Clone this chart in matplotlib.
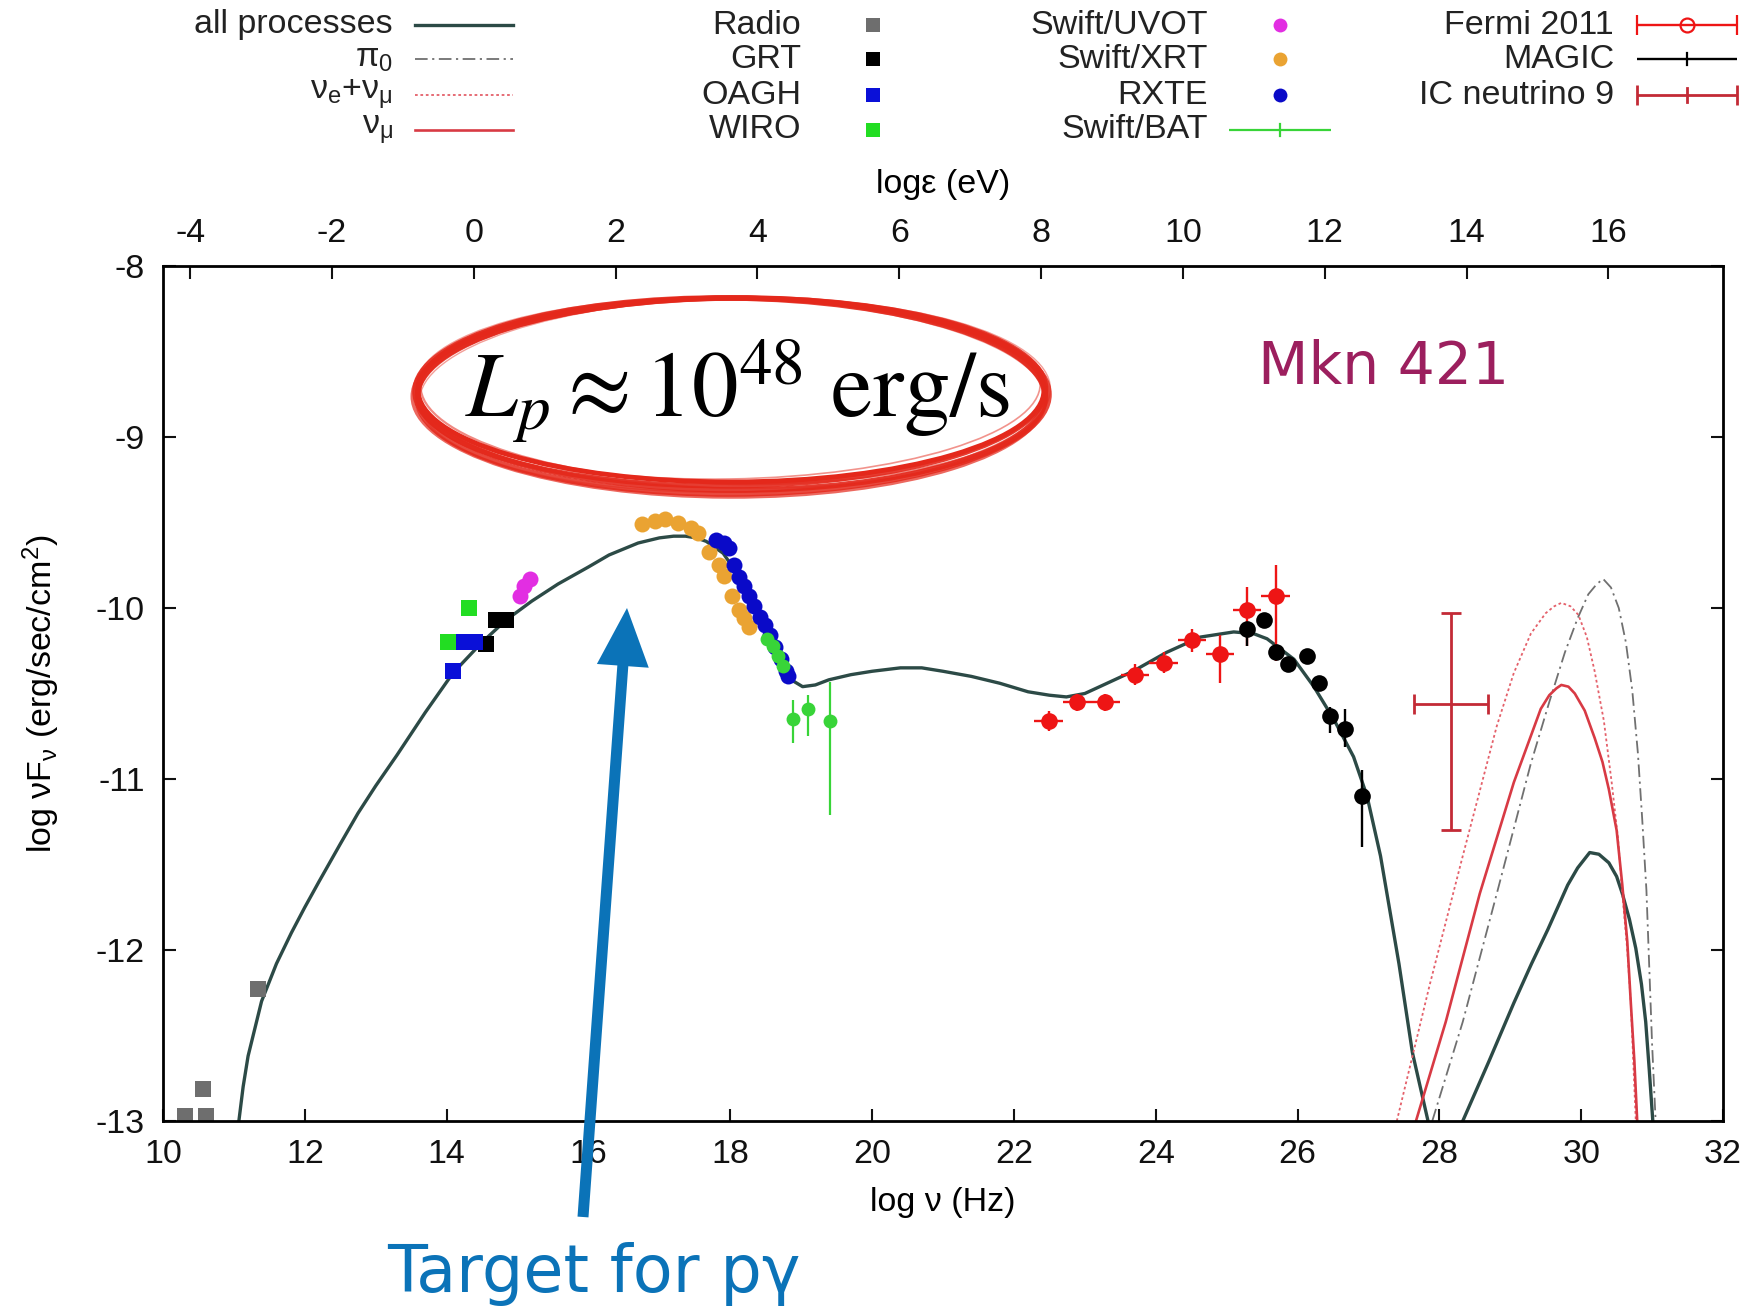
import matplotlib
matplotlib.use("Agg")
import matplotlib.pyplot as plt
from matplotlib.patches import Ellipse, FancyArrow

plt.rcParams['font.family'] = ['Liberation Sans', 'DejaVu Sans']
plt.rcParams['mathtext.fontset'] = 'custom'
plt.rcParams['mathtext.rm'] = 'Liberation Sans'
plt.rcParams['mathtext.it'] = 'Liberation Sans:italic'
plt.rcParams['mathtext.bf'] = 'Liberation Sans:bold'
plt.rcParams['axes.unicode_minus'] = False

# ---------------- model curves (log nu [Hz], log nuFnu) ----------------
all_x1 = [11.07, 11.13, 11.2, 11.39, 11.6, 11.81, 12.0, 12.2, 12.5, 12.75, 13.0, 13.3, 13.7,
          14.09, 14.5, 14.84, 15.2, 15.57, 16.0, 16.29, 16.7, 17.0, 17.2, 17.37, 17.52,
          17.66, 17.9, 18.1, 18.3, 18.5, 18.7, 18.9, 19.02, 19.2, 19.39, 19.7, 20.0, 20.4,
          20.7, 21.0, 21.4, 21.8, 22.2, 22.5, 22.74, 23.0, 23.21, 23.68, 24.15, 24.63,
          25.1, 25.38, 25.57, 25.95, 26.23, 26.51, 26.79, 26.98, 27.17, 27.43, 27.62, 27.84]
all_y1 = [-13.0, -12.8, -12.62, -12.30, -12.08, -11.9, -11.75, -11.6, -11.38, -11.2, -11.04,
          -10.86, -10.61, -10.38, -10.2, -10.07, -9.96, -9.86, -9.76, -9.69, -9.62, -9.59,
          -9.58, -9.58, -9.59, -9.61, -9.68, -9.80, -9.96, -10.13, -10.30, -10.43, -10.46,
          -10.45, -10.42, -10.39, -10.37, -10.35, -10.35, -10.37, -10.40, -10.44, -10.49,
          -10.51, -10.52, -10.50, -10.46, -10.37, -10.26, -10.17, -10.14, -10.15, -10.18,
          -10.30, -10.46, -10.65, -10.87, -11.10, -11.45, -12.08, -12.6, -13.0]
all_x2 = [28.33, 28.7, 29.05, 29.3, 29.53, 29.81, 29.95, 30.12, 30.25, 30.39, 30.5, 30.58,
          30.68, 30.77, 30.85, 30.91, 30.96, 31.01]
all_y2 = [-13.0, -12.65, -12.31, -12.08, -11.88, -11.62, -11.52, -11.43, -11.44, -11.49,
          -11.57, -11.67, -11.82, -11.99, -12.2, -12.42, -12.7, -13.0]

pi0_x = [27.9, 28.33, 28.81, 29.29, 29.55, 29.77, 29.95, 30.1, 30.22, 30.31, 30.42, 30.53,
         30.63, 30.72, 30.8, 30.86, 30.92, 30.96, 31.0, 31.05]
pi0_y = [-13.0, -12.42, -11.67, -10.91, -10.55, -10.26, -10.06, -9.92, -9.86, -9.83, -9.88,
         -10.0, -10.2, -10.48, -10.85, -11.23, -11.65, -12.1, -12.55, -13.0]

nuall_x = [27.40, 27.86, 28.33, 28.81, 29.05, 29.29, 29.5, 29.62, 29.72, 29.85, 29.96,
           30.08, 30.19, 30.32, 30.43, 30.52, 30.58, 30.65, 30.70, 30.77]
nuall_y = [-13.0, -12.21, -11.45, -10.69, -10.38, -10.15, -10.03, -9.99, -9.97, -9.99,
           -10.04, -10.17, -10.37, -10.66, -11.02, -11.35, -11.67, -12.0, -12.31, -13.0]

numu_x = [27.67, 28.09, 28.57, 29.05, 29.43, 29.55, 29.65, 29.72, 29.82, 29.91, 30.05,
          30.19, 30.3, 30.39, 30.5, 30.58, 30.65, 30.70, 30.75, 30.79]
numu_y = [-13.0, -12.42, -11.67, -11.02, -10.59, -10.51, -10.47, -10.45, -10.46, -10.5,
          -10.6, -10.76, -10.9, -11.06, -11.3, -11.62, -11.95, -12.31, -12.65, -13.0]

# ---------------- observations ----------------
radio_x = [10.31, 10.56, 10.61, 11.34]
radio_y = [-12.97, -12.81, -12.97, -12.23]
grt_x = [14.56, 14.70, 14.84]
grt_y = [-10.21, -10.07, -10.07]
oagh_x = [14.09, 14.25, 14.40]
oagh_y = [-10.37, -10.20, -10.20]
wiro_x = [14.02, 14.31]
wiro_y = [-10.20, -10.00]
uvot_x = [15.03, 15.09, 15.17]
uvot_y = [-9.93, -9.87, -9.83]
xrt_x = [16.76, 16.94, 17.08, 17.26, 17.44, 17.55, 17.70, 17.84, 17.91, 18.02, 18.12,
         18.19, 18.27]
xrt_y = [-9.51, -9.49, -9.48, -9.50, -9.53, -9.56, -9.67, -9.75, -9.81, -9.93, -10.01,
         -10.06, -10.11]
rxte_x = [17.80, 17.91, 17.98, 18.05, 18.12, 18.19, 18.27, 18.34, 18.42, 18.49, 18.56,
          18.63, 18.71, 18.78, 18.81]
rxte_y = [-9.60, -9.62, -9.65, -9.75, -9.82, -9.87, -9.93, -9.99, -10.05, -10.10, -10.16,
          -10.23, -10.30, -10.37, -10.40]
bat_x = [18.52, 18.60, 18.67, 18.74, 18.89, 19.10, 19.40]
bat_y = [-10.18, -10.22, -10.28, -10.34, -10.65, -10.59, -10.66]
bat_xerr = [0.02, 0.02, 0.02, 0.02, 0.05, 0.05, 0.05]
bat_yerr_lo = [0.02, 0.02, 0.02, 0.02, 0.14, 0.16, 0.55]
bat_yerr_hi = [0.02, 0.02, 0.02, 0.02, 0.11, 0.08, 0.23]
fermi_x = [22.49, 22.89, 23.29, 23.71, 24.11, 24.51, 24.91, 25.29, 25.69]
fermi_y = [-10.66, -10.55, -10.55, -10.39, -10.32, -10.19, -10.27, -10.01, -9.93]
fermi_xerr = [0.2, 0.2, 0.2, 0.2, 0.2, 0.2, 0.2, 0.2, 0.2]
fermi_yerr_lo = [0.06, 0.05, 0.05, 0.06, 0.06, 0.07, 0.17, 0.21, 0.38]
fermi_yerr_hi = [0.06, 0.05, 0.05, 0.06, 0.06, 0.07, 0.11, 0.13, 0.18]
magic_x = [25.29, 25.52, 25.69, 25.87, 26.13, 26.30, 26.46, 26.67, 26.91]
magic_y = [-10.12, -10.07, -10.26, -10.33, -10.28, -10.44, -10.63, -10.71, -11.10]
magic_yerr_lo = [0.10, 0.04, 0.04, 0.04, 0.04, 0.04, 0.10, 0.10, 0.30]
magic_yerr_hi = [0.04, 0.04, 0.04, 0.04, 0.04, 0.04, 0.05, 0.12, 0.15]
icnu_x = [28.16]
icnu_y = [-10.56]
icnu_xerr = [0.52]
icnu_yerr_lo = [0.74]
icnu_yerr_hi = [0.53]

nu_ticks = list(range(10, 33, 2))
y_ticks = [-8, -9, -10, -11, -12, -13]
eps_ticks = list(range(-4, 17, 2))
LOG_H_EV = 14.383   # log nu - log(eps/eV)

# ---------------- styles ----------------
C_ALL = '#2c4a46'
C_NUMU = '#d83a44'
C_NUALL = '#e4606a'
C_PI0 = '#707070'
st_all = dict(color=C_ALL, lw=2.4, ls='-')
st_pi0 = dict(color=C_PI0, lw=1.3, ls=(0, (7, 2.5, 1.2, 2.5)))
st_nuall = dict(color=C_NUALL, lw=1.3, ls=(0, (1.5, 1.5)))
st_numu = dict(color=C_NUMU, lw=1.9, ls='-')
sq = dict(ls='none', marker='s', ms=11, mew=0)
ci = dict(ls='none', marker='o', ms=11.5, mew=0)
st_radio = dict(sq, color='#6e6e6e')
st_grt = dict(sq, color='#000000')
st_oagh = dict(sq, color='#0a10d8')
st_wiro = dict(sq, color='#22dd22')
st_uvot = dict(ci, color='#e22ee2')
st_xrt = dict(ci, color='#eaa332')
st_rxte = dict(ci, color='#0a0ac8')
eb_bat = dict(fmt='o', color='#38d438', ms=10, mew=0, elinewidth=1.6, capsize=5, capthick=1.6)
eb_fermi = dict(fmt='o', color='#ee1515', ms=12, mew=0, elinewidth=1.7, capsize=5, capthick=1.7)
eb_magic = dict(fmt='o', color='#000000', ms=12, mew=0, elinewidth=1.7, capsize=6, capthick=1.7)
eb_icnu = dict(fmt='none', color='#c32a36', elinewidth=2.0, capsize=7, capthick=2.0)

FS = 24.5
W, H = 1750, 1316
fig = plt.figure(figsize=(W / 100, H / 100), dpi=100)
ax = fig.add_axes([163 / W, 1 - 1121 / H, (1723 - 163) / W, (1121 - 266) / H])

ax.plot(all_x1, all_y1, **st_all)
ax.plot(all_x2, all_y2, **st_all)
ax.plot(pi0_x, pi0_y, **st_pi0)
ax.plot(nuall_x, nuall_y, **st_nuall)
ax.plot(numu_x, numu_y, **st_numu)

ax.plot(radio_x, radio_y, **st_radio)
ax.plot(grt_x, grt_y, **st_grt)
ax.plot(oagh_x, oagh_y, **st_oagh)
ax.plot(wiro_x, wiro_y, **st_wiro)
ax.plot(uvot_x, uvot_y, **st_uvot)
ax.plot(xrt_x, xrt_y, **st_xrt)
ax.plot(rxte_x, rxte_y, **st_rxte)
ax.errorbar(bat_x, bat_y, xerr=bat_xerr, yerr=[bat_yerr_lo, bat_yerr_hi], **eb_bat)
ax.errorbar(fermi_x, fermi_y, xerr=fermi_xerr, yerr=[fermi_yerr_lo, fermi_yerr_hi], **eb_fermi)
ax.errorbar(magic_x, magic_y, yerr=[magic_yerr_lo, magic_yerr_hi], **eb_magic)
ax.errorbar(icnu_x, icnu_y, xerr=icnu_xerr, yerr=[icnu_yerr_lo, icnu_yerr_hi], **eb_icnu)

ax.set_xlim(10, 32)
ax.set_ylim(-13, -8)
ax.set_xticks(nu_ticks)
ax.set_yticks(y_ticks)
ax.tick_params(direction='in', length=9, width=1.5, labelsize=FS, right=True, top=False,
               colors='#111111')
ax.tick_params(axis='x', pad=13)
ax.tick_params(axis='y', pad=13)
for s in ax.spines.values():
    s.set_linewidth(2.0)
ax.set_xlabel('log ν (Hz)', fontsize=FS, labelpad=12)
ax.set_ylabel('log νF$_{\\mathrm{ν}}$ (erg/sec/cm$^{\\mathrm{2}}$)', fontsize=FS, labelpad=24)

sec = ax.secondary_xaxis('top', functions=(lambda v: v - LOG_H_EV, lambda e: e + LOG_H_EV))
sec.set_xticks(eps_ticks)
sec.tick_params(direction='in', length=9, width=1.5, labelsize=FS, pad=12, colors='#111111')
sec.set_xlabel('logε (eV)', fontsize=FS, labelpad=18)

# ---------------- overlay in pixel units: keys and annotations ----------------
ov = fig.add_axes([0, 0, 1, 1], zorder=10)
ov.set_xlim(0, W)
ov.set_ylim(H, 0)
ov.axis('off')
ov.patch.set_alpha(0)

TXT = '#222222'
rows = [25, 59, 95, 130]
# column 1: model curves
for y, lab, st in zip(rows, ['all processes', 'π$_{\\mathrm{0}}$', 'ν$_{\\mathrm{e}}$+ν$_{\\mathrm{μ}}$', 'ν$_{\\mathrm{μ}}$'],
                      [st_all, st_pi0, st_nuall, st_numu]):
    ov.text(393, y, lab, ha='right', va='center', fontsize=FS, color=TXT)
    ov.plot([415, 513], [y, y], **st)
# column 2
for y, lab, st in zip(rows, ['Radio', 'GRT', 'OAGH', 'WIRO'], [st_radio, st_grt, st_oagh, st_wiro]):
    ov.text(801, y, lab, ha='right', va='center', fontsize=FS, color=TXT)
    ov.plot([873], [y], **dict(st, ms=10))
# column 3
for y, lab, st in zip(rows[:3], ['Swift/UVOT', 'Swift/XRT', 'RXTE'], [st_uvot, st_xrt, st_rxte]):
    ov.text(1208, y, lab, ha='right', va='center', fontsize=FS, color=TXT)
    ov.plot([1280], [y], **dict(st, ms=10))
ov.text(1208, rows[3], 'Swift/BAT', ha='right', va='center', fontsize=FS, color=TXT)
ov.errorbar([1280], [rows[3]], xerr=[51], **dict(eb_bat, ms=0, capsize=6))
ov.plot([1280, 1280], [rows[3] - 6, rows[3] + 6], color='#38d438', lw=1.6)
# column 4
ov.text(1614, rows[0], 'Fermi 2011', ha='right', va='center', fontsize=FS, color=TXT)
ov.errorbar([1687], [rows[0]], xerr=[50], **dict(eb_fermi, ms=10, mfc='none', mew=1.6, capsize=7))
ov.text(1614, rows[1], 'MAGIC', ha='right', va='center', fontsize=FS, color=TXT)
ov.errorbar([1687], [rows[1]], xerr=[50], **dict(eb_magic, ms=0, capsize=7))
ov.plot([1687, 1687], [rows[1] - 6, rows[1] + 6], color='black', lw=1.6)
ov.text(1614, rows[2], 'IC neutrino 9', ha='right', va='center', fontsize=FS, color=TXT)
ov.errorbar([1687], [rows[2]], xerr=[50], **dict(eb_icnu, capsize=7))
ov.plot([1687, 1687], [rows[2] - 7, rows[2] + 7], color='#c32a36', lw=2.0)

# proton luminosity callout with a hand-drawn red loop
RED = '#e4281b'
strokes = [  # (dx, dgrow, angle, linewidth, alpha)
    (0, 0, 0.0, 3.5, 1.0), (1, 4, -0.6, 3.5, 0.9), (-1, 8, 0.5, 4.0, 0.9),
    (2, 12, -0.3, 4.0, 0.85), (-2, 15, 0.2, 2.5, 0.7), (3, 2, 1.0, 1.6, 0.55),
    (-3, -3, -0.9, 1.2, 0.5), (0, 6, 1.4, 1.0, 0.45), (4, 10, -1.2, 1.0, 0.45)]
for dx, g, a, lw, al in strokes:
    ov.add_patch(Ellipse((731 + dx, 390 + g / 2), 626 + g * 0.5, 184 + g, angle=a,
                         fill=False, ec=RED, lw=lw, alpha=al))
ov.text(737, 391, r'$L_p \approx 10^{48}\ \mathrm{erg/s}$', ha='center', va='center',
        fontsize=67, math_fontfamily='stix', color='black')

ov.text(1384, 368, 'Mkn 421', ha='center', va='center', fontsize=42, color='#9c1f5e',
        family='DejaVu Sans')

ov.add_patch(FancyArrow(583, 1217, 627 - 583, 608 - 1217, width=11, head_width=52,
                        head_length=58, length_includes_head=True, color='#0b73b8', lw=0))
ov.text(594, 1274, 'Target for pγ', ha='center', va='center', fontsize=47, color='#0b73b8',
        family='DejaVu Sans')

fig.savefig('out.png', dpi=100)
